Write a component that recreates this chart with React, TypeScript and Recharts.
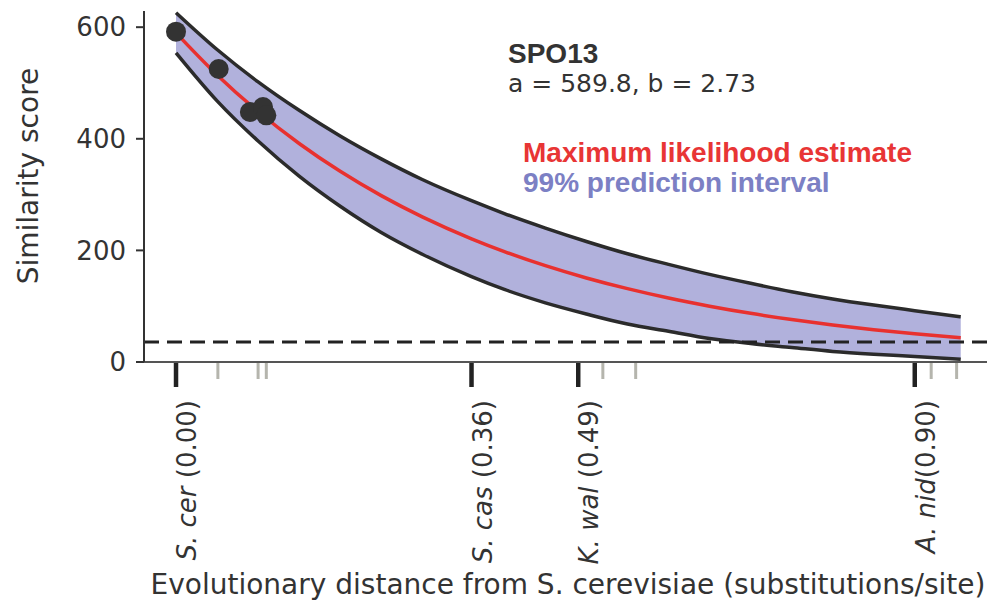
import React from 'react';
import { ComposedChart, Area, Line, Scatter, XAxis, YAxis, ReferenceLine } from 'recharts';

// Fitted curve sample positions (substitutions/site)
const distances = [0, 0.05, 0.1, 0.15, 0.2, 0.25, 0.3, 0.36, 0.4, 0.45, 0.5, 0.55, 0.6, 0.65, 0.7, 0.75, 0.8, 0.85, 0.9, 0.956];
// Maximum likelihood estimate (red curve)
const mleScores = [589.8, 514.5, 448.9, 391.6, 341.7, 298.1, 260.1, 220.8, 197.9, 172.6, 150.6, 131.4, 114.6, 100.0, 87.2, 76.1, 66.4, 57.9, 50.5, 43.4];
// 99% prediction interval bounds
const upperBound = [626, 560, 502, 451, 405, 364, 327, 289, 266, 240, 216, 194, 175, 157, 141, 126, 113, 102, 92, 81];
const lowerBound = [554, 468, 396, 333, 279, 232, 193, 153, 130, 106, 86, 68, 55, 42, 33, 26, 19, 14, 10, 5];

// Observed similarity scores
const observedDistances = [0, 0.052, 0.09, 0.106, 0.11];
const observedScores = [592, 525, 448, 457, 442];

// Species ticks
const speciesNames = ['S. cer', 'S. cas', 'K. wal', 'A. nid'];
const speciesDistances = [0, 0.36, 0.49, 0.9];
const speciesSuffix = [' (0.00)', ' (0.36)', ' (0.49)', '(0.90)'];
const otherSpeciesDistances = [0.051, 0.1, 0.11, 0.52, 0.56, 0.92, 0.951];

const yTicks = [0, 200, 400, 600];
const threshold = 36;

const curveData = distances.map((d, i) => ({
  d,
  mle: mleScores[i],
  upper: upperBound[i],
  lower: lowerBound[i],
  band: [lowerBound[i], upperBound[i]],
}));
const pointData = observedDistances.map((d, i) => ({ d, s: observedScores[i] }));

const FONT = '"DejaVu Sans", sans-serif';
const BOLD = '"Liberation Sans", Arial, sans-serif';

const XTick = (props: any) => {
  const { x, y, payload } = props;
  const idx = speciesDistances.indexOf(payload.value);
  if (idx < 0) {
    return (
      <line x1={x} y1={y + 1} x2={x} y2={y + 17} stroke="#b5b5ad" strokeWidth={3} />
    );
  }
  return (
    <g>
      <line x1={x} y1={y + 1} x2={x} y2={y + 25} stroke="#222" strokeWidth={4.5} />
      <text
        transform={`translate(${x + 11},${y + 38}) rotate(-90)`}
        textAnchor="end"
        dominantBaseline="central"
        fontSize={26}
        fontFamily={FONT}
        fill="#333"
      >
        <tspan fontStyle="italic">{speciesNames[idx]}</tspan>
        <tspan>{speciesSuffix[idx]}</tspan>
      </text>
    </g>
  );
};

const Dot = (props: any) => <circle cx={props.cx} cy={props.cy} r={10} fill="#333" />;

export default function App() {
  return (
    <div style={{ position: 'absolute', left: 0, top: 0, width: 987, height: 609, background: '#fff' }}>
      <ComposedChart
        width={987}
        height={609}
        data={curveData}
        margin={{ top: 11, right: 0, left: 0, bottom: 0 }}
      >
        <XAxis
          dataKey="d"
          type="number"
          domain={[-0.039, 0.988]}
          allowDataOverflow
          ticks={[...speciesDistances, ...otherSpeciesDistances]}
          interval={0}
          tick={<XTick />}
          tickLine={false}
          tickSize={0}
          tickMargin={0}
          height={247}
          axisLine={{ stroke: '#555', strokeWidth: 2 }}
        />
        <YAxis
          type="number"
          domain={[0, 629]}
          allowDataOverflow
          ticks={yTicks}
          width={144}
          tickSize={8}
          tickMargin={10}
          tick={{ fontSize: 26, fill: '#333', fontFamily: FONT }}
          tickLine={{ stroke: '#333', strokeWidth: 2 }}
          axisLine={{ stroke: '#333', strokeWidth: 2 }}
        />
        <Area
          dataKey="band"
          type="monotone"
          stroke="none"
          fill="#b1b1dc"
          fillOpacity={1}
          isAnimationActive={false}
        />
        <Line dataKey="upper" type="monotone" stroke="#2b2b2b" strokeWidth={3.5} dot={false} isAnimationActive={false} />
        <Line dataKey="lower" type="monotone" stroke="#2b2b2b" strokeWidth={3.5} dot={false} isAnimationActive={false} />
        <Scatter data={pointData} dataKey="s" shape={<Dot />} isAnimationActive={false} />
        <Line dataKey="mle" type="monotone" stroke="#e8312f" strokeWidth={3.5} dot={false} isAnimationActive={false} />
        <ReferenceLine y={threshold} stroke="#222" strokeWidth={3} strokeDasharray="15 8" />
      </ComposedChart>
      <svg
        width={987}
        height={609}
        style={{ position: 'absolute', left: 0, top: 0, pointerEvents: 'none' }}
      >
        <text x={508} y={63} fontFamily={BOLD} fontWeight="bold" fontSize={28} fill="#333">SPO13</text>
        <text x={508} y={92} fontFamily={FONT} fontSize={25} fill="#333">a = 589.8, b = 2.73</text>
        <text x={523} y={162} fontFamily={BOLD} fontWeight="bold" fontSize={28} fill="#e83535">Maximum likelihood estimate</text>
        <text x={523} y={192} fontFamily={BOLD} fontWeight="bold" fontSize={28} fill="#7c80c4">99% prediction interval</text>
        <text x={568} y={594} textAnchor="middle" fontFamily={FONT} fontSize={28} fill="#333">
          Evolutionary distance from S. cerevisiae (substitutions/site)
        </text>
        <text
          x={38}
          y={176}
          transform="rotate(-90 38 176)"
          textAnchor="middle"
          fontFamily={FONT}
          fontSize={28}
          fill="#333"
        >
          Similarity score
        </text>
      </svg>
    </div>
  );
}
